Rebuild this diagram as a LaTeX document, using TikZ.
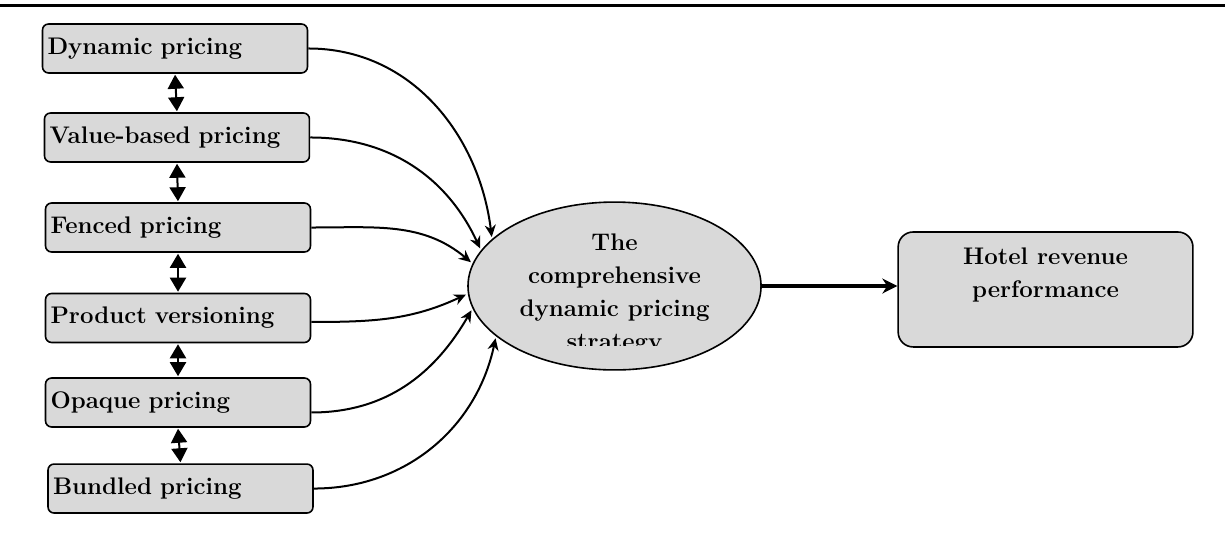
\documentclass[tikz,border=0pt]{standalone}
\usepackage{tikz}
\usetikzlibrary{
    shapes.geometric,
    arrows.meta,
    positioning
}

\begin{document}
\begin{tikzpicture}[
    font=\fontsize{12}{16.5}\selectfont\bfseries,
    pricebox/.style={
        rectangle,
        rounded corners=3pt,
        draw=black,
        line width=0.8pt,
        fill=black!15,
        minimum height=0.86cm,
        text width=4.48cm,
        inner xsep=2.5pt,
        align=left
    },
    strategy/.style={
        ellipse,
        draw=black,
        line width=0.8pt,
        fill=black!15,
        minimum width=5.15cm,
        minimum height=2.95cm,
        inner sep=0pt
    },
    outcome/.style={
        rectangle,
        rounded corners=7.5pt,
        draw=black,
        line width=0.8pt,
        fill=black!15,
        minimum width=5.18cm,
        minimum height=2.02cm,
        align=center
    },
    linkarrow/.style={-{Stealth[length=6pt,width=5.5pt]}, line width=1pt, shorten >=1pt},
    pairarrow/.style={{Triangle[length=7pt,width=8pt]}-{Triangle[length=7pt,width=8pt]}, line width=1pt, shorten <=0.5pt, shorten >=0.5pt},
    mainarrow/.style={-{Stealth[length=7.5pt,width=7.5pt]}, line width=2pt}
]
\useasboundingbox (0,0) rectangle (21.527,9.472);

% Top rule
\draw[line width=1.8pt] (0,9.372) -- (21.527,9.372);

% Pricing strategies
\node[pricebox] (dyn) at (3.075, 8.620) {Dynamic pricing};
\node[pricebox] (val) at (3.110, 7.056) {Value-based pricing};
\node[pricebox] (fen) at (3.128, 5.474) {Fenced pricing};
\node[pricebox] (pro) at (3.128, 3.884) {Product versioning};
\node[pricebox] (opq) at (3.128, 2.399) {Opaque pricing};
\node[pricebox] (bun) at (3.172, 0.887) {Bundled pricing};

% Links between strategies
\draw[pairarrow] (dyn.south) -- (val.north);
\draw[pairarrow] (val.south) -- (fen.north);
\draw[pairarrow] (fen.south) -- (pro.north);
\draw[pairarrow] (pro.south) -- (opq.north);
\draw[pairarrow] (opq.south) -- (bun.north);

% Comprehensive strategy
\node[strategy] (strat) at (10.799, 4.446) {};
\begin{scope}
    \clip (7.5, 3.409) rectangle (14, 6);
    \node[align=center, anchor=north, inner sep=0pt] (strattext) at (10.799, 5.370)
        {The\\comprehensive\\dynamic pricing\\strategy};
\end{scope}

% Outcome
\node[outcome] (hotel) at (18.373, 4.385) {Hotel revenue\\performance\\\mbox{}};

% Arrows into the strategy
\draw[linkarrow] (dyn.east) to[out=0, in=97] (strat.159);
\draw[linkarrow] (val.east) to[out=0, in=115] (strat.165);
\draw[linkarrow] (fen.east) to[out=0, in=140] (strat.171);
\draw[linkarrow] ([yshift=-2pt]pro.east) to[out=0, in=205] (strat.183);
\draw[linkarrow] ([yshift=-5pt]opq.east) to[out=0, in=240] (strat.189);
\draw[linkarrow] (bun.east) to[out=0, in=258] (strat.203);

% Strategy to outcome
\draw[mainarrow] (strat.east) -- (strat.east -| hotel.west);

\end{tikzpicture}
\end{document}
